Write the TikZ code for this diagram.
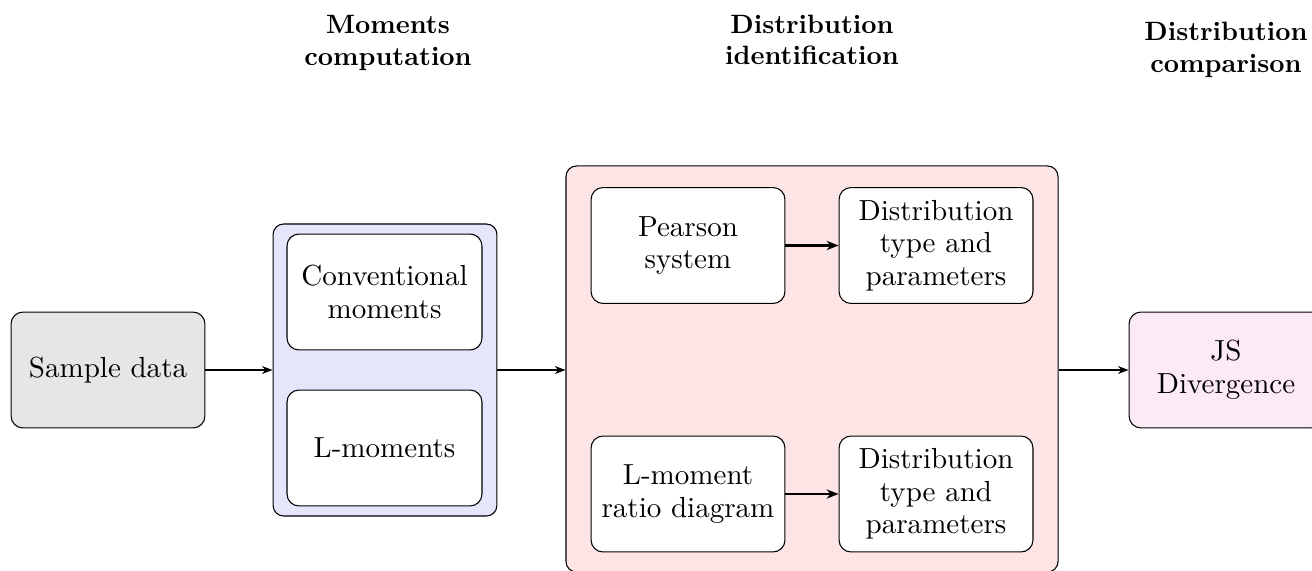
\documentclass[tikz,border=0pt]{standalone}
\usetikzlibrary{arrows.meta}
\definecolor{grayfill}{HTML}{E6E6E6}
\definecolor{bluefill}{HTML}{E5E5FB}
\definecolor{redfill}{HTML}{FDE5E5}
\definecolor{pinkfill}{HTML}{FCEBF6}
\begin{document}
\begin{tikzpicture}[x=0.377pt,y=-0.377pt,
  body/.style={font=\fontsize{10.95}{12.3}\selectfont, align=center},
  box/.style={body, draw, rounded corners=4.5pt, fill=white, inner sep=0pt,
    minimum width=73.1pt, minimum height=43.7pt},
  cont/.style={draw, rounded corners=4pt, inner sep=0pt},
  title/.style={font=\fontsize{10}{11.8}\selectfont\bfseries, align=center},
  arr/.style={-{Stealth[length=4pt,width=3pt]}},
  arrb/.style={-{Stealth[length=4.5pt,width=3.5pt]}, line width=0.8pt}]
\clip (0,0) rectangle (1312,571);
% containers
\node[cont, fill=bluefill, minimum width=84.4pt, minimum height=110.1pt] (blue) at (385,370) {};
\node[cont, fill=redfill, minimum width=185.5pt, minimum height=153.1pt] (red) at (812,369) {};
% boxes
\node[box, fill=grayfill] (sample) at (108,370) {Sample data};
\node[box, minimum width=73.5pt] (conv) at (384.5,292) {Conventional\\moments};
\node[box, minimum width=73.5pt] (lmom) at (384.5,448) {L-moments};
\node[box] (pearson) at (688,245.5) {Pearson\\system};
\node[box] (dist1) at (936,245.5) {Distribution\\type and\\parameters};
\node[box] (lratio) at (688,494) {L-moment\\ratio diagram};
\node[box] (dist2) at (936,494) {Distribution\\type and\\parameters};
\node[box, fill=pinkfill] (js) at (1226,370) {JS\\Divergence};
% titles
\node[title] (t1) at (388,43) {Moments\\computation};
\node[title] (t2) at (812,40) {Distribution\\identification};
\node[title] (t3) at (1226,50) {Distribution\\comparison};
% arrows
\draw[arr] (sample.east) -- (blue.west |- sample.east);
\draw[arr] (blue.east |- sample.east) -- (red.west |- sample.east);
\draw[arr] (red.east |- js.west) -- (js.west);
\draw[arrb] (pearson.east) -- (dist1.west);
\draw[arrb] (lratio.east) -- (dist2.west);
\end{tikzpicture}
\end{document}
